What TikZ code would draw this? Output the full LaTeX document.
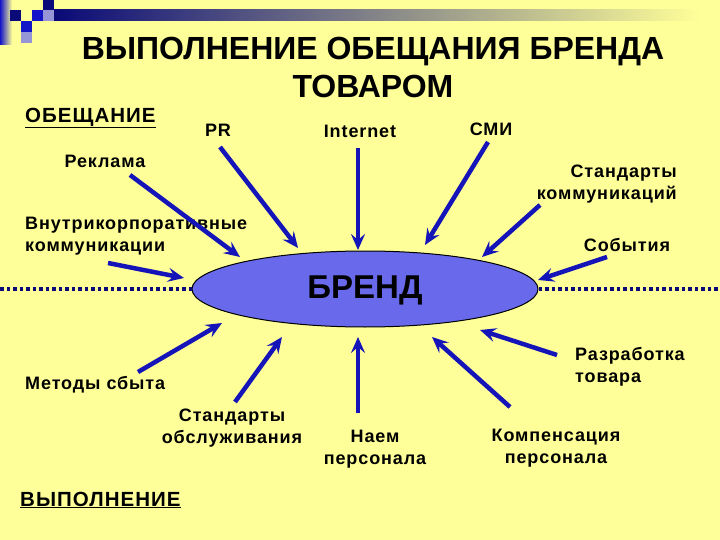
\documentclass[tikz,border=0pt]{standalone}
\usepackage{fontspec}
\setmainfont{Liberation Sans}
\newfontfamily\lblfont{Liberation Sans}[LetterSpace=5]
\usetikzlibrary{arrows.meta,shapes.geometric}
\definecolor{bg}{RGB}{255,255,153}
\definecolor{arr}{RGB}{20,20,185}
\definecolor{navy}{RGB}{10,10,120}
\definecolor{ell}{RGB}{105,105,235}
\definecolor{lav}{RGB}{150,150,215}
\definecolor{midblue}{RGB}{20,20,200}
\tikzset{
  lbl/.style={font=\lblfont\bfseries\fontsize{18}{22.5}\selectfont, inner sep=0pt},
  biglbl/.style={font=\lblfont\bfseries\fontsize{20.5}{24}\selectfont, inner sep=0pt},
  arrowline/.style={draw=arr, line width=4.5pt, -{Stealth[length=16pt,width=14pt,inset=6pt]}},
  dotline/.style={draw=navy, line width=3.5pt, dash pattern=on 3.5pt off 3pt}
}
\begin{document}
\begin{tikzpicture}[x=1pt,y=-1pt]
\useasboundingbox[fill=bg] (0,0) rectangle (720,540);
% decoration top-left
\shade[left color=midblue, right color=bg] (0,0) rectangle (12,45);
\shade[left color=navy, right color=bg] (54,10) rectangle (700,21);
\fill[navy] (10,10) rectangle (21,21);
\fill[midblue] (21,21) rectangle (32,32);
\fill[lav] (21,32) rectangle (32,43);
\fill[midblue] (32,10) rectangle (43,21);
\fill[lav] (43,10) rectangle (54,21);
\fill[navy] (43,0) rectangle (54,10);
% title
\node[font=\bfseries\fontsize{32}{38}\selectfont, align=center, inner sep=0pt] (title) at (373,67) {ВЫПОЛНЕНИЕ ОБЕЩАНИЯ БРЕНДА\\ТОВАРОМ};
% brand
\node[ellipse, draw=black, line width=1pt, fill=ell, minimum width=346pt, minimum height=76pt, inner sep=0pt] (brand) at (365,289) {};
\node[font=\bfseries\fontsize{33}{38}\selectfont, inner sep=0pt] (brandtxt) at (365,290) {БРЕНД};
% dotted lines
\coordinate (dl) at (0,289);
\coordinate (dr) at (720,289);
\draw[dotline] (dl) -- (brand.west);
\draw[dotline] (brand.east) -- (dr);
% labels
\node[biglbl, anchor=west] (obesch) at (25,118) {\underline{ОБЕЩАНИЕ}};
\node[lbl] (pr) at (218,130) {PR};
\node[lbl] (inet) at (360,131) {Internet};
\node[lbl] (smi) at (491,129) {СМИ};
\node[lbl] (rekl) at (105,161) {Реклама};
\node[lbl, anchor=east, align=right] (stkom) at (677,184) {Стандарты\\коммуникаций};
\node[lbl, anchor=west, align=left] (vnutr) at (25,236) {Внутрикорпоративные\\коммуникации};
\node[lbl] (sob) at (627,245) {События};
\node[lbl, anchor=west] (metody) at (25,385) {Методы сбыта};
\node[lbl, align=center] (stobs) at (232,428) {Стандарты\\обслуживания};
\node[lbl, align=center] (naem) at (375,449) {Наем\\персонала};
\node[lbl, anchor=west, align=left] (razr) at (575,367) {Разработка\\товара};
\node[lbl, align=center] (komp) at (556,448) {Компенсация\\персонала};
\node[biglbl, anchor=west] (vyp) at (20,500) {\underline{ВЫПОЛНЕНИЕ}};
% arrow coordinates
\coordinate (reklS) at (130,175); \coordinate (reklE) at (240,257);
\coordinate (prS) at (220,147); \coordinate (prE) at (298,248);
\coordinate (vnS) at (108,263); \coordinate (vnE) at (184,278);
\coordinate (inS) at (358,148); \coordinate (inE) at (358,250);
\coordinate (smiS) at (488,142); \coordinate (smiE) at (425,245);
\coordinate (skS) at (540,205); \coordinate (skE) at (482,257);
\coordinate (sobS) at (607,257); \coordinate (sobE) at (538,280);
\coordinate (mtS) at (138,372); \coordinate (mtE) at (222,323);
\coordinate (soS) at (235,402); \coordinate (soE) at (282,337);
\coordinate (naS) at (358,413); \coordinate (naE) at (358,337);
\coordinate (kpS) at (510,407); \coordinate (kpE) at (432,337);
\coordinate (rzS) at (557,355); \coordinate (rzE) at (480,330);
\foreach \a in {rekl,pr,vn,in,smi,sk,sob,mt,so,na,kp,rz}
  \draw[arrowline] (\a S) -- (\a E);
\end{tikzpicture}
\end{document}
